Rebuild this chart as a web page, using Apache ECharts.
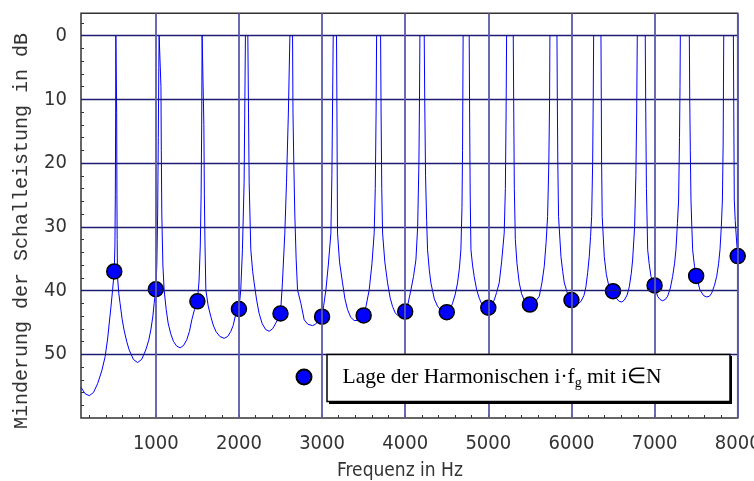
<!DOCTYPE html>
<html>
<head>
<meta charset="utf-8">
<script src="https://cdn.jsdelivr.net/npm/echarts@6/dist/echarts.min.js"></script>
<style>
html,body{margin:0;padding:0;background:#fff;}
#c{width:754px;height:481px;}
</style>
</head>
<body>
<div id="c"></div>
<script>
// ---- data ----
const freqHz = [
100,150,200,250,300,350,390,420,440,460,480,500,508,513,517,519,526,529,532,535,539,
555,570,595,618,650,679,730,780,830,880,915,940,965,980,1000,1012,1022,1030,1036,1040,1058,1062,1066,1072,1085,
1100,1125,1148,1180,1213,1250,1292,1335,1373,1405,1433,1465,1500,1520,1535,1545,1552,1557,1573,1578,1584,1592,
1602,1630,1662,1690,1722,1770,1822,1865,1903,1930,1955,1980,2000,2022,2042,2062,2070,2078,2107,2115,2123,
2143,2165,2183,2213,2243,2280,2320,2364,2405,2444,2475,2500,2523,2552,2572,2595,2613,2645,2650,2660,2672,2688,
2705,2745,2785,2830,2886,2920,2946,2975,3000,3020,3046,3075,3106,3118,3127,3134,3174,3179,3186,3210,
3246,3275,3307,3345,3386,3430,3467,3500,3530,3567,3600,3627,3640,3650,3656,3704,3710,3718,3728,3755,
3788,3820,3848,3880,3909,3950,4000,4035,4069,4100,4129,4150,4165,4172,4177,4229,4235,4245,4258,4269,4290,
4309,4350,4390,4440,4500,4540,4570,4600,4630,4652,4670,4683,4690,4697,4770,4776,4782,4791,4810,4830,
4860,4891,4930,4960,5000,5040,5071,5100,5131,5160,5191,5205,5214,5220,5300,5306,5313,5325,5345,5372,
5400,5432,5472,5500,5540,5580,5613,5645,5673,5695,5713,5728,5737,5741,5826,5830,5836,5845,5874,5895,
5914,5960,6000,6040,6080,6114,6150,6174,6195,6214,6230,6243,6255,6262,6267,6355,6359,6363,6370,6395,
6420,6450,6500,6540,6574,6605,6636,6670,6696,6720,6736,6760,6775,6785,6792,6888,6894,6902,6917,6935,
6957,7000,7036,7065,7096,7130,7157,7190,7217,7240,7257,7275,7289,7300,7306,7310,7418,7423,7430,7438,
7448,7458,7480,7500,7546,7590,7627,7660,7687,7720,7747,7770,7787,7803,7816,7825,7832,7948,7953,7959,
7970,7980,8000
];
const levelDb = [
55.2,56.2,56.5,56.0,54.6,52.6,50.4,47.6,45.1,42.6,39.9,37.0,33,25,12,0,0,12,25,32,37.8,
40.5,42.0,44.5,46.2,48.0,49.3,50.8,51.3,50.8,49.3,47.8,46.2,44.0,42.0,39.8,36,28,16,5,0,0,8,18,28,36,
39.9,43.0,45.1,46.8,48.0,48.7,49.0,48.6,47.7,46.4,44.6,43.0,41.7,38.5,33,25,14,0,0,14,25,33,
39.9,42.4,44.1,45.4,46.4,47.2,47.5,47.2,46.4,45.5,44.1,43.5,42.9,39.9,33.6,23.1,12,0,0,12,23.1,
33.6,37,38.8,41.5,43.6,45.2,46.1,46.4,46.0,45.1,44.3,43.6,38.8,31,23.1,12,0,0,12,20,28,35,
39.9,42.0,44.6,45.3,45.5,45.3,44.9,44.5,44.0,42.3,39.9,36,31,22,10,0,0,12,31,35.5,
38.8,41.3,43.0,44.2,44.7,44.7,44.3,43.8,42.4,39.9,35.8,31,24,12,0,0,12,24,31,35.5,
38.8,41.2,42.5,43.5,43.9,43.8,43.3,42.0,39.9,37.8,35.2,30,20,10,0,0,10,22,29,33.6,36.8,
38.8,41.3,42.5,43.2,43.4,42.9,42.0,40.7,38.8,36.5,33.6,27,18,0,0,14,25,33.6,36,37.8,
39.9,41.2,42.4,42.7,42.7,42.2,41.5,40.3,38.8,35.5,31,24,12,0,0,12,24,32,35.8,38.8,
40.5,41.5,42.0,42.1,41.9,41.5,40.9,38.8,36.2,32.5,28.4,20,10,0,0,10,20,28.4,34.7,37,
38.8,40.8,41.6,42.2,42.1,41.7,40.8,39.4,37.2,34.7,31.5,28.4,20,10,0,0,10,20,28.4,34.7,
37.5,39.3,40.2,41.2,41.7,41.8,41.5,40.7,39.4,37.3,35.2,30,22,12,0,0,12,24,33.6,35.8,
37.8,39.3,40.9,41.4,41.6,41.4,40.9,39.6,37.8,35.8,33.6,29.5,25.8,16,8,0,0,10,18,25.8,
30,33.6,36.2,37.7,39.9,40.8,41.0,40.9,40.4,39.2,37.8,35.8,33.6,30,25.8,17,0,0,12,25.8,
29,31,34.6
];
const harmHz = [500,1000,1500,2000,2500,3000,3500,4000,4500,5000,5500,6000,6500,7000,7500,8000];
const harmDb = [37.0,39.8,41.7,42.9,43.6,44.1,43.9,43.3,43.4,42.7,42.2,41.5,40.1,39.2,37.7,34.6];
const xTickLabels = [1000,2000,3000,4000,5000,6000,7000,8000];
const yTickLabels = [0,10,20,30,40,50];
const xMinorTicks = [200,400,600,800,1000,1200,1400,1600,1800,2000,2200,2400,2600,2800,3000,3200,3400,3600,3800,4000,4200,4400,4600,4800,5000,5200,5400,5600,5800,6000,6200,6400,6600,6800,7000,7200,7400,7600,7800];
const yMinorTicks = [-2,0,2,4,6,8,10,12,14,16,18,20,22,24,26,28,30,32,34,36,38,40,42,44,46,48,50,52,54,56,58];
const legendName = 'Lage der Harmonischen i·fg mit i∈N';

const narrow = "'Liberation Sans Narrow','Arial Narrow','DejaVu Sans Condensed',sans-serif";
const serif = "'Liberation Serif','Times New Roman',serif";
const chart = echarts.init(document.getElementById('c'), null, {renderer: 'canvas'});

const gridLines = yTickLabels.map(v => ({yAxis: v, lineStyle: {color: '#1c1c74', width: 1.3, type: 'solid'}}))
  .concat(xTickLabels.map(v => ({xAxis: v, lineStyle: {color: '#5a5aaa', width: 1.8, type: 'solid'}})));

chart.setOption({
  animation: false,
  backgroundColor: '#ffffff',
  grid: {left: 81, right: 16.3, top: 13.3, bottom: 63, containLabel: false, outerBoundsMode: 'none',
    show: true, borderColor: '#333', borderWidth: 1.5, backgroundColor: 'transparent'},
  xAxis: {
    type: 'value', min: 100, max: 8000,
    axisLine: {show: false, onZero: false},
    splitLine: {show: false},
    axisTick: {show: true, inside: true, length: 3, customValues: xMinorTicks, lineStyle: {color: '#333', width: 1}},
    axisLabel: {customValues: xTickLabels, margin: 16, fontFamily: narrow, fontSize: 20, color: '#333',
      formatter: v => String(v)}
  },
  yAxis: {
    type: 'value', min: -3.5, max: 60, inverse: true,
    axisLine: {show: false, onZero: false},
    splitLine: {show: false},
    axisTick: {show: true, inside: true, length: 3, customValues: yMinorTicks, lineStyle: {color: '#333', width: 1}},
    axisLabel: {customValues: yTickLabels, margin: 14, fontFamily: narrow, fontSize: 20, color: '#333',
      formatter: v => String(v)}
  },
  legend: {
    show: true, left: 295.5, top: 366, orient: 'horizontal', padding: 0, z: 100,
    itemWidth: 15, itemHeight: 15, icon: 'circle',
    data: [{name: legendName}],
    formatter: () => '{t|Lage der Harmonischen i·f}{s|g}{t| mit i∈N}',
    textStyle: {
      padding: [0, 0, 0, 26], color: '#000',
      rich: {
        t: {fontFamily: serif, fontSize: 21.5, color: '#000', lineHeight: 26},
        s: {fontFamily: serif, fontSize: 14, color: '#000', verticalAlign: 'bottom', lineHeight: 20}
      }
    }
  },
  graphic: [
    {type: 'rect', z: 50, shape: {x: 329, y: 356, width: 403, height: 48}, style: {fill: '#000'}},
    {type: 'rect', z: 51, shape: {x: 327, y: 354.5, width: 403, height: 47}, style: {fill: '#fff', stroke: '#000', lineWidth: 1.5}},
    {type: 'text', z: 95, x: 22, y: 231, rotation: Math.PI / 2,
      style: {text: 'Minderung der Schalleistung in dB', fontFamily: "'Liberation Mono','Courier New',monospace", fontSize: 20, fill: '#333', align: 'center', verticalAlign: 'middle'}},
    {type: 'text', z: 95, x: 400, y: 471,
      style: {text: 'Frequenz in Hz', fontFamily: narrow, fontSize: 19, fill: '#333', align: 'center', verticalAlign: 'middle'}}
  ],
  series: [
    {
      type: 'line', name: 'grid', data: [], z: 1, silent: true,
      markLine: {silent: true, symbol: ['none', 'none'], label: {show: false}, animation: false, data: gridLines}
    },
    {
      type: 'line', name: 'curve', z: 2, silent: true,
      data: freqHz.map((f, i) => [f, levelDb[i]]),
      showSymbol: false, symbol: 'none',
      lineStyle: {color: '#0000ff', width: 1},
      itemStyle: {color: '#0000ff'}
    },
    {
      type: 'scatter', name: legendName, z: 3,
      data: harmHz.map((f, i) => [f, harmDb[i]]),
      symbol: 'circle', symbolSize: 15,
      itemStyle: {color: '#0000ff', borderColor: '#000', borderWidth: 1.5, opacity: 1}
    }
  ]
});
</script>
</body>
</html>
